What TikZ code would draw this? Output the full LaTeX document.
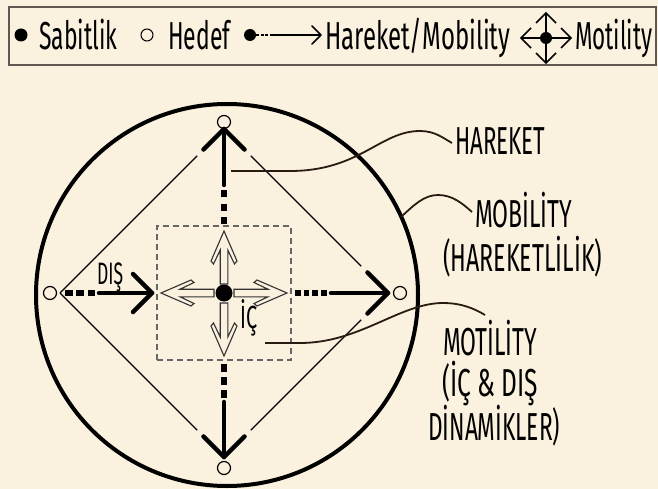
\documentclass[tikz,border=0pt]{standalone}
\usepackage{fontspec}
\setmainfont{Fira Sans}
\usetikzlibrary{calc}
\definecolor{bg}{RGB}{250,241,222}
\definecolor{leadc}{RGB}{40,28,18}
\definecolor{framec}{RGB}{95,88,80}
\newcommand{\squeeze}[2]{\resizebox{#1}{\height}{#2}}
\begin{document}
\begin{tikzpicture}[x=1pt,y=-1pt,
  thickln/.style={line width=4.5pt, line cap=round, line join=round},
  dotln/.style={line width=5.5pt},
  diam/.style={line width=1.4pt},
  target/.style={circle, draw, line width=1.2pt, fill=bg, minimum size=13pt, inner sep=0pt},
  leader/.style={draw=leadc, line width=1.8pt},
  lbl/.style={inner sep=0pt, anchor=base west, font=\fontsize{39}{39}\selectfont},
  harrow/.pic={\draw[line width=1.1pt, draw=black!80, fill=bg, line join=miter]
     (-53,-3.8) -- (-19,-3.8) -- (-33,-10.5) -- (-30,-13) -- (0,0) -- (-30,13) -- (-33,10.5) -- (-19,3.8) -- (-53,3.8) -- cycle;}
]
\useasboundingbox[fill=bg] (0,0) rectangle (658,489);

% legend
\node[draw=framec, line width=1.5pt, minimum width=647pt, minimum height=58pt, inner sep=0pt] (legend) at (332.5,36) {};
\node[circle, fill=black, minimum size=13pt, inner sep=0pt] (lgfix) at (21,35) {};
\node[lbl] (lgfixt) at (39,50) {\squeeze{78pt}{Sabitlik}};
\node[circle, draw, line width=1pt, minimum size=12pt, inner sep=0pt] (lgtar) at (147,35) {};
\node[lbl] (lgtart) at (168,50) {\squeeze{62pt}{Hedef}};
\node[circle, fill=black, minimum size=12pt, inner sep=0pt] (lgmob) at (250,35) {};
\coordinate (lgmobe) at (321,35);
\draw[line width=2.8pt, dash pattern=on 3pt off 1.5pt] (lgmob.east) -- (271,35);
\draw[line width=1.5pt] (271,35) -- (lgmobe);
\draw[line width=1.5pt, line cap=round, line join=round] (312,26) -- (lgmobe) -- (312,44);
\node[lbl] (lgmobt) at (325,50) {\squeeze{185pt}{Hareket/Mobility}};
\node[circle, fill=black, minimum size=12pt, inner sep=0pt] (lgmot) at (546,38) {};
\coordinate (mU) at (546,13); \coordinate (mD) at (546,63);
\coordinate (mL) at (521,38); \coordinate (mR) at (571,38);
\draw[line width=1.6pt] (mU) -- (mD) (mL) -- (mR);
\draw[line width=1.6pt, line join=miter] (536,23) -- (mU) -- (556,23);
\draw[line width=1.6pt, line join=miter] (536,53) -- (mD) -- (556,53);
\draw[line width=1.6pt, line join=miter] (531,28) -- (mL) -- (531,48);
\draw[line width=1.6pt, line join=miter] (561,28) -- (mR) -- (561,48);
\node[lbl] (lgmott) at (575,50) {\squeeze{77pt}{Motility}};

% main circle
\node[circle, draw, line width=4pt, minimum size=382pt, inner sep=0pt] (outer) at (227,295) {};

% diamond vertices
\coordinate (T) at (224,129);
\coordinate (B) at (224,457);
\coordinate (L) at (60,293);
\coordinate (R) at (388,293);
\draw[diam] (L) -- ($(T)!38pt!(L)$);
\draw[diam] ($(T)!38pt!(R)$) -- ($(R)!38pt!(T)$);
\draw[diam] ($(R)!38pt!(B)$) -- ($(B)!38pt!(R)$);
\draw[diam] ($(B)!38pt!(L)$) -- (L);

% targets
\node[target] (tT) at (224,122) {};
\node[target] (tB) at (224,468) {};
\node[target] (tL) at (50,293) {};
\node[target] (tR) at (400,293) {};

% inner dashed square
\node[draw=black!60, dashed, dash pattern=on 6pt off 4pt, line width=1.2pt, minimum size=134pt, inner sep=0pt] (sq) at (224,293) {};

% mobility arrows: top
\draw[dotln, dash pattern=on 7pt off 6.5pt] (224,224) -- (224,190);
\draw[thickln] (224,185) -- (T);
\draw[thickln] ($(T)!29pt!(L)$) -- (T) -- ($(T)!29pt!(R)$);
% bottom
\draw[dotln, dash pattern=on 7.5pt off 5.5pt] (224,364) -- (224,398);
\draw[thickln] (224,402) -- (B);
\draw[thickln] ($(B)!29pt!(L)$) -- (B) -- ($(B)!29pt!(R)$);
% right
\draw[dotln, dash pattern=on 5.5pt off 3.2pt] (295,293) -- (327,293);
\draw[thickln] (331,293) -- (R);
\draw[thickln] ($(R)!29pt!(T)$) -- (R) -- ($(R)!29pt!(B)$);
% left (inward)
\coordinate (Ltip) at (152,293);
\draw[dotln, dash pattern=on 7.5pt off 3.75pt] (65,293) -- (95,293);
\draw[thickln] (99,293) -- (Ltip);
\draw[thickln] (133,274) -- (Ltip) -- (133,312);
\node[inner sep=0pt, anchor=base west, font=\fontsize{31}{31}\selectfont] (dis) at (97,284) {\squeeze{26pt}{DIŞ}};

% motility hollow arrows
\pic[rotate=0] at (287,293) {harrow};
\pic[rotate=180] at (161,293) {harrow};
\pic[rotate=90] at (224,231) {harrow};
\pic[rotate=270] at (224,356) {harrow};
\node[circle, fill=black, minimum size=17pt, inner sep=0pt] (c) at (224,293) {};
\node[inner sep=0pt, anchor=base west, font=\fontsize{32}{32}\selectfont] (ic) at (240,328) {\squeeze{17pt}{İÇ}};

% labels
\node[lbl] (hareket) at (455,155) {\squeeze{90pt}{HAREKET}};
\node[lbl] (mobil) at (475,227) {\squeeze{97pt}{MOBİLİTY}};
\node[lbl] (mobil2) at (443,271) {\squeeze{159pt}{(HAREKETLİLİK)}};
\node[lbl] (motil) at (443,355) {\squeeze{94pt}{MOTİLİTY}};
\node[lbl] (motil2) at (442,396) {\squeeze{96pt}{(İÇ \& DIŞ}};
\node[lbl] (motil3) at (428,440) {\squeeze{132pt}{DİNAMİKLER)}};

% leaders
\coordinate (hs) at (231,171);
\coordinate (ms) at (401,217);
\coordinate (ts) at (265,343);
\draw[leader] (hs) -- (290,171) .. controls (360,171) and (380,131) .. (420,131) .. controls (435,131) and (443,138) .. (452,143);
\draw[leader] (ms) .. controls (414,205) and (424,195) .. (438,195) .. controls (452,195) and (462,203) .. (472,212);
\draw[leader] (ts) -- (300,343) .. controls (360,343) and (400,303) .. (443,303) .. controls (462,303) and (475,309) .. (485,315);
\end{tikzpicture}
\end{document}
